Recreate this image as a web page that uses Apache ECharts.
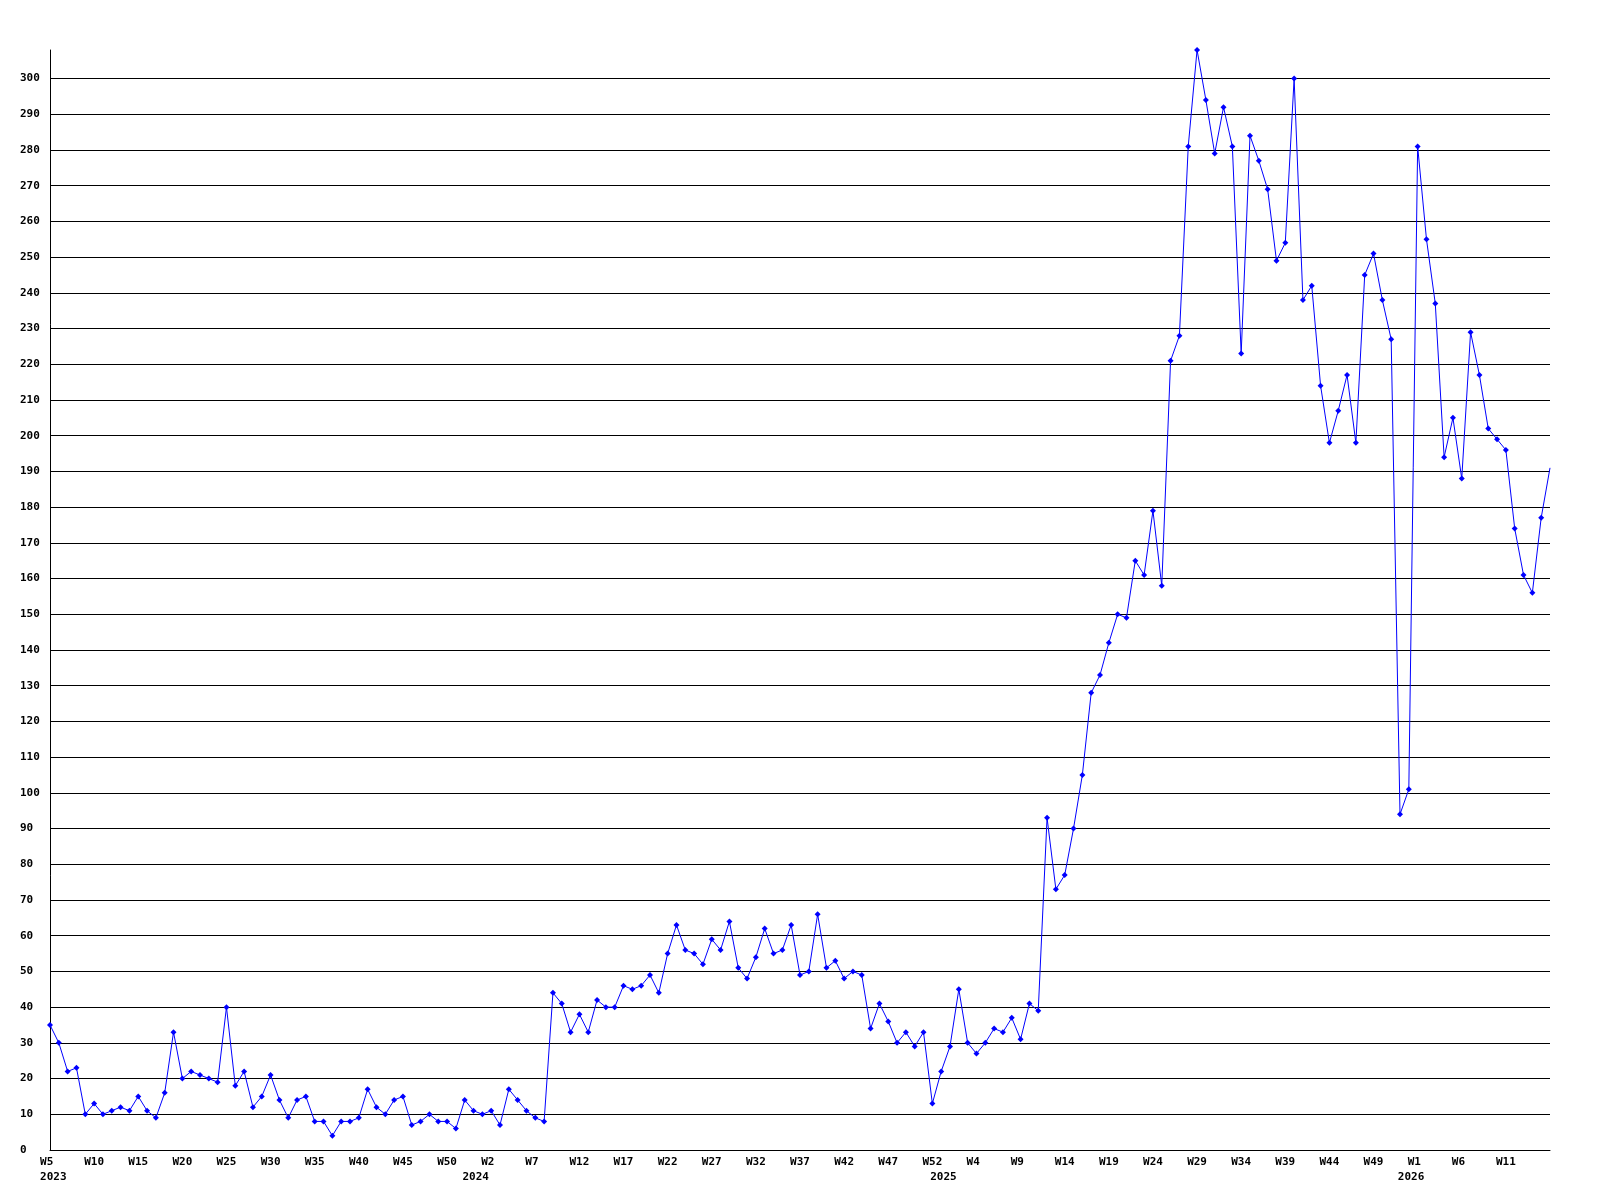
<!DOCTYPE html>
<html>
<head>
<meta charset="utf-8">
<script src="https://cdn.jsdelivr.net/npm/echarts@6/dist/echarts.min.js"></script>
<style>
  html, body { margin: 0; padding: 0; background: #ffffff; }
  #chart { width: 1600px; height: 1200px; }
</style>
</head>
<body>
<div id="chart"></div>
<script>
// Weekly values, one array per year (week numbering used by the source)
const years = [2023, 2024, 2025, 2026];
const firstWeek = [5, 1, 1, 1];
const values2023 = [35, 30, 22, 23, 10, 13, 10, 11, 12, 11, 15, 11, 9, 16, 33, 20, 22, 21, 20, 19,
  40, 18, 22, 12, 15, 21, 14, 9, 14, 15, 8, 8, 4, 8, 8, 9, 17, 12, 10, 14,
  15, 7, 8, 10, 8, 8, 6, 14, 11];
const values2024 = [10, 11, 7, 17, 14, 11, 9, 8, 44, 41, 33, 38, 33, 42, 40, 40, 46, 45, 46, 49,
  44, 55, 63, 56, 55, 52, 59, 56, 64, 51, 48, 54, 62, 55, 56, 63, 49, 50, 66, 51,
  53, 48, 50, 49, 34, 41, 36, 30, 33, 29, 33, 13, 22];
const values2025 = [29, 45, 30, 27, 30, 34, 33, 37, 31, 41, 39, 93, 73, 77, 90, 105, 128, 133, 142, 150,
  149, 165, 161, 179, 158, 221, 228, 281, 308, 294, 279, 292, 281, 223, 284, 277, 269, 249, 254, 300,
  238, 242, 214, 198, 207, 217, 198, 245, 251, 238, 227, 94, 101];
const values2026 = [281, 255, 237, 194, 205, 188, 229, 217, 202, 199, 196, 174, 161, 156, 177, 191];

const yearValues = [values2023, values2024, values2025, values2026];
const labelEvery = 5;     // a week label every 5 weeks
const yTickStep = 10;     // y tick step

// Build categories from the arrays
const categories = [];
const weekOf = [];
const yearStartIndex = {};
const values = [];
yearValues.forEach((arr, yi) => {
  yearStartIndex[categories.length] = years[yi];
  arr.forEach((v, k) => {
    const wk = firstWeek[yi] + k;
    categories.push(years[yi] + '-W' + wk);
    weekOf.push(wk);
    values.push(v);
  });
});
const lastIndex = values.length - 1;

const FONT = 'DejaVu Sans Mono';

function showLabel(index) {
  if (index === lastIndex) return false;
  return index % labelEvery === 0 || yearStartIndex[index] !== undefined;
}

function formatLabel(value, index) {
  let top = '';
  if (index % labelEvery === 0) {
    top = ('W' + weekOf[index] + '   ').slice(0, 3);
  }
  if (yearStartIndex[index] !== undefined) {
    const y = String(yearStartIndex[index]);
    const bottom = index === 0 ? ' ' + y : y + '  ';
    return top + '\n' + bottom;
  }
  return top;
}

const chart = echarts.init(document.getElementById('chart'), null, { renderer: 'canvas' });
chart.setOption({
  animation: false,
  backgroundColor: '#ffffff',
  grid: { left: 50, right: 50, top: 50, bottom: 50, containLabel: false },
  xAxis: {
    type: 'category',
    data: categories,
    boundaryGap: false,
    axisLine: { show: true, lineStyle: { color: '#000000', width: 1 } },
    axisTick: { show: false },
    splitLine: { show: false },
    axisLabel: {
      interval: showLabel,
      formatter: formatLabel,
      margin: 5,
      color: '#000000',
      fontFamily: FONT,
      fontWeight: 'bold',
      fontSize: 11,
      lineHeight: 15,
      align: 'center',
      verticalAlign: 'top'
    }
  },
  yAxis: {
    type: 'value',
    min: 0,
    max: 'dataMax',
    interval: yTickStep,
    axisLine: { show: true, lineStyle: { color: '#000000', width: 1 } },
    axisTick: { show: false },
    splitLine: { show: true, showMaxLine: false, lineStyle: { color: '#000000', width: 1 } },
    axisLabel: {
      showMaxLabel: false,
      margin: 30,
      align: 'left',
      color: '#000000',
      fontFamily: FONT,
      fontWeight: 'bold',
      fontSize: 11
    }
  },
  series: [{
    type: 'line',
    data: values,
    symbol: function (val, params) { return params.dataIndex === lastIndex ? 'none' : 'diamond'; },
    symbolSize: 6,
    showAllSymbol: true,
    lineStyle: { color: '#0000ff', width: 1 },
    itemStyle: { color: '#0000ff' },
    emphasis: { disabled: true }
  }]
});
</script>
</body>
</html>
